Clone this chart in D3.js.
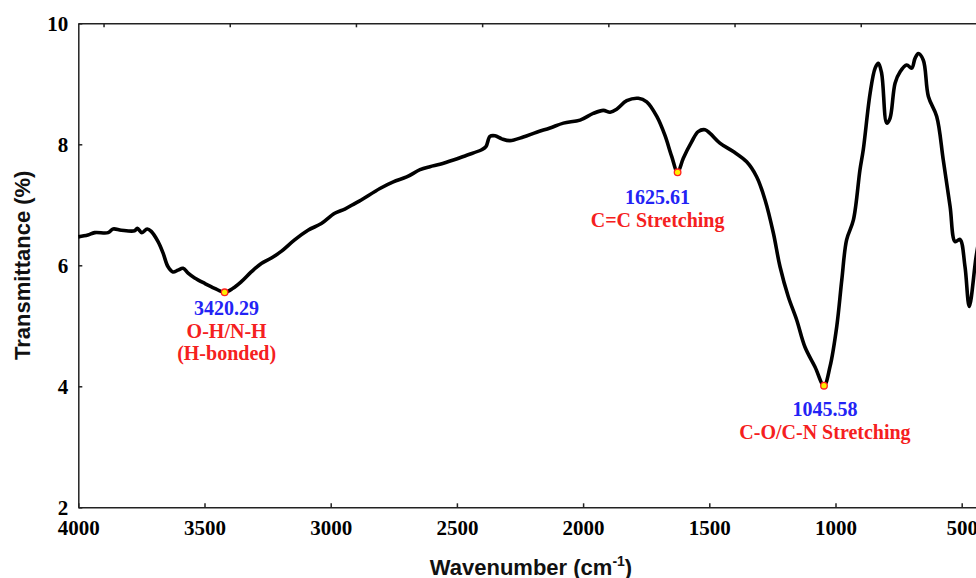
<!DOCTYPE html>
<html>
<head>
<meta charset="utf-8">
<script src="https://cdn.jsdelivr.net/npm/d3@7"></script>
<style>
  body { margin: 0; background: #fff; }
  svg { display: block; }
  .axis path, .axis line { stroke: #222; stroke-width: 1.5; }
  .axis text { font-family: "Liberation Serif", "Times New Roman", serif; font-weight: bold; font-size: 21px; fill: #000; }
  .label { font-family: "Liberation Sans", Arial, sans-serif; font-weight: bold; font-size: 22px; fill: #111; }
  .note { font-family: "Liberation Serif", "Times New Roman", serif; font-weight: bold; font-size: 20px; }
</style>
</head>
<body>
<div id="ftir"></div>
<script>
// spectrum
const wavenumber = [4000, 3962, 3935, 3882, 3862, 3830, 3777, 3766, 3748, 3727, 3711, 3684, 3664, 3645,
  3625, 3605, 3585, 3565, 3539, 3499, 3460, 3420.29, 3387, 3354, 3315, 3275, 3235, 3196, 3143, 3090,
  3037, 2984, 2944, 2905, 2879, 2805, 2752, 2699, 2646, 2607, 2567, 2514, 2461, 2402, 2385, 2369,
  2349, 2322, 2290, 2237, 2184, 2131, 2078, 2012, 1960, 1920, 1893, 1867, 1827, 1781, 1748, 1708,
  1676, 1649, 1625.61, 1603, 1570, 1544, 1517, 1497, 1458, 1405, 1352, 1312, 1279, 1246, 1220, 1187,
  1154, 1121, 1081, 1045.58, 1022, 995, 975, 956, 929, 903, 890, 863, 843, 830, 817, 797, 784, 764,
  744, 718, 698, 685, 672, 652, 632, 599, 573, 546, 526, 507, 487, 470, 443, 428];
const transmittance = [6.47, 6.50, 6.54, 6.54, 6.60, 6.58, 6.57, 6.61, 6.54, 6.60, 6.56, 6.39, 6.20, 5.98,
  5.89, 5.92, 5.95, 5.87, 5.79, 5.70, 5.62, 5.554, 5.62, 5.73, 5.89, 6.03, 6.12, 6.23, 6.42, 6.58,
  6.69, 6.86, 6.93, 7.02, 7.08, 7.27, 7.38, 7.46, 7.58, 7.63, 7.67, 7.74, 7.82, 7.91, 7.96, 8.13,
  8.14, 8.09, 8.06, 8.12, 8.20, 8.27, 8.35, 8.40, 8.51, 8.56, 8.53, 8.58, 8.72, 8.76, 8.70, 8.46,
  8.15, 7.80, 7.537, 7.77, 8.04, 8.21, 8.24, 8.18, 8.02, 7.88, 7.71, 7.46, 7.08, 6.53, 5.98, 5.48,
  5.10, 4.65, 4.32, 4.01, 4.32, 4.99, 5.76, 6.42, 6.75, 7.58, 7.91, 8.84, 9.26, 9.34, 9.17, 8.35, 8.43, 9.01,
  9.20, 9.31, 9.26, 9.42, 9.50, 9.39, 8.79, 8.46, 7.74, 6.97, 6.39, 6.43, 5.98, 5.32, 6.14, 6.50];

// marked peaks
const peakWn = [3420.29, 1625.61, 1045.58];
const peakT = [5.554, 7.537, 4.01];
const peakValue = ["3420.29", "1625.61", "1045.58"];
const peakNote = [["O-H/N-H", "(H-bonded)"], ["C=C Stretching"], ["C-O/C-N Stretching"]];

const xTicks = [4000, 3500, 3000, 2500, 2000, 1500, 1000, 500];
const topTicks = [3900, 3400, 2900, 2400, 1900, 1400, 900];
const yTicks = [2, 4, 6, 8, 10];

const W = 976, H = 578;
const m = { l: 78.3, t: 23.3, b: 507.3 };

var x = d3.scaleLinear().domain([4000, 400]).range([m.l, m.l + 3600 * 0.2524]);
var y = d3.scaleLinear().domain([2, 10]).range([m.b, m.t]);

var svg = d3.select("#ftir").append("svg")
  .attr("width", W)
  .attr("height", H);

// axes, ticks point inward
svg.append("g")
  .attr("class", "axis")
  .attr("transform", "translate(0," + m.b + ")")
  .call(d3.axisBottom(x).tickValues(xTicks).tickFormat(d3.format("d"))
    .tickSizeInner(-4).tickSizeOuter(0).tickPadding(13));

svg.append("g")
  .attr("class", "axis")
  .attr("transform", "translate(0," + m.t + ")")
  .call(d3.axisTop(x).tickValues(topTicks).tickFormat("")
    .tickSizeInner(-4).tickSizeOuter(0));

svg.append("g")
  .attr("class", "axis")
  .attr("transform", "translate(" + m.l + ",0)")
  .call(d3.axisLeft(y).tickValues(yTicks).tickFormat(d3.format("d"))
    .tickSizeInner(-4).tickSizeOuter(0).tickPadding(10));

// spectrum
var pts = wavenumber.map((w, i) => ({ w: w, t: transmittance[i] }));

svg.append("path")
  .datum(pts)
  .attr("d", d3.line()
    .x((d) => x(d.w))
    .y((d) => y(d.t))
    .curve(d3.curveCatmullRom.alpha(0.5)))
  .attr("fill", "none")
  .attr("stroke", "#000")
  .attr("stroke-width", 3.6)
  .attr("stroke-linejoin", "round");

// peak labels: offsets of the text block from the marker
const noteOffset = [{ dx: 2, dy: 23 }, { dx: -20, dy: 32 }, { dx: 1, dy: 30 }];

peakWn.forEach(function (w, i) {
  var px = x(w), py = y(peakT[i]);
  var o = noteOffset[i];

  svg.append("text")
    .attr("class", "note")
    .attr("x", px + o.dx)
    .attr("y", py + o.dy)
    .attr("text-anchor", "middle")
    .attr("fill", "#2323f5")
    .text(peakValue[i]);

  peakNote[i].forEach(function (s, j) {
    svg.append("text")
      .attr("class", "note")
      .attr("x", px + o.dx)
      .attr("y", py + o.dy + 23 + j * 21.5)
      .attr("text-anchor", "middle")
      .attr("fill", "#f52020")
      .text(s);
  });

  svg.append("circle")
    .attr("cx", px)
    .attr("cy", py)
    .attr("r", 3.3)
    .attr("fill", "#ffee00")
    .attr("stroke", "#ff2020")
    .attr("stroke-width", 1.3);
});

// axis titles
var xl = svg.append("text")
  .attr("class", "label")
  .attr("x", 531)
  .attr("y", 575)
  .attr("text-anchor", "middle");
xl.append("tspan").text("Wavenumber (cm");
xl.append("tspan").attr("font-size", "14px").attr("dy", -9).text("-1");
xl.append("tspan").attr("dy", 9).text(")");

svg.append("text")
  .attr("class", "label")
  .attr("transform", "translate(30," + (m.t + m.b) / 2 + ") rotate(-90)")
  .attr("text-anchor", "middle")
  .text("Transmittance (%)");
</script>
</body>
</html>
